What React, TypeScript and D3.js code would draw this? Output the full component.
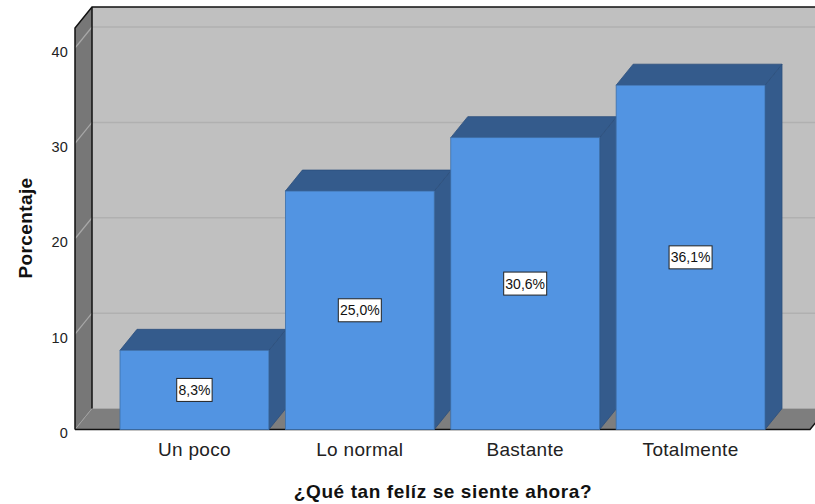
import React from "react";
import * as d3 from "d3";

const categories = ["Un poco", "Lo normal", "Bastante", "Totalmente"];
const values = [8.3, 25.0, 30.6, 36.1];
const yTicks = [0, 10, 20, 30, 40];
const yTitle = "Porcentaje";
const xTitle = "¿Qué tan felíz se siente ahora?";

const W = 815;
const H = 504;
const FONT = "'Liberation Sans', Arial, sans-serif";

export default function App() {
  const dx = 17;
  const dy = -21;
  const floorY = 429.5;
  const leftX = 75;
  const rightX = 810;
  const topY = 28;

  const y = d3.scaleLinear().domain([0, 40]).range([floorY, 48]);
  const x = d3.scaleBand<string>().domain(categories).range([120, 765]).paddingInner(0.1).paddingOuter(0);
  const bw = x.bandwidth();
  const fmt = (v: number) => d3.format(".1f")(v).replace(".", ",") + "%";

  const poly = (pts: [number, number][]) => pts.map((p) => p.join(",")).join(" ");

  return (
    <svg width={W} height={H} style={{ position: "absolute", left: 0, top: 0, background: "#fff" }} fontFamily={FONT}>
      <rect x={leftX + dx} y={topY + dy} width={rightX - leftX + 10} height={floorY - topY} fill="#c0c0c0" />
      {yTicks.slice(1).map((t) => (
        <line key={"bg" + t} x1={leftX + dx} x2={W} y1={y(t) + dy} y2={y(t) + dy} stroke="#b0b0b0" strokeWidth={1.5} />
      ))}
      <polygon
        points={poly([
          [leftX, topY],
          [leftX + dx, topY + dy],
          [leftX + dx, floorY + dy],
          [leftX, floorY],
        ])}
        fill="#777777"
      />
      {yTicks.slice(1).map((t) => (
        <line key={"lg" + t} x1={leftX} y1={y(t)} x2={leftX + dx} y2={y(t) + dy} stroke="#a8a8a8" strokeWidth={1.2} />
      ))}
      <polygon
        points={poly([
          [leftX, floorY],
          [leftX + dx, floorY + dy],
          [rightX + dx, floorY + dy],
          [rightX, floorY],
        ])}
        fill="#7e7e7e"
      />
      <line x1={leftX + dx} y1={floorY + dy} x2={W} y2={floorY + dy} stroke="#a8a8a8" strokeWidth={1.2} />
      <line x1={leftX} y1={floorY} x2={leftX + dx} y2={floorY + dy} stroke="#a0a0a0" strokeWidth={1} />
      <polyline
        points={poly([
          [leftX, floorY],
          [leftX, topY],
          [leftX + dx, topY + dy],
          [W + 5, topY + dy],
        ])}
        fill="none"
        stroke="#111"
        strokeWidth={1.5}
      />
      <line x1={leftX + dx} y1={topY + dy} x2={leftX + dx} y2={floorY + dy} stroke="#111" strokeWidth={1.5} />
      <polyline
        points={poly([
          [leftX, floorY],
          [rightX, floorY],
          [rightX + dx, floorY + dy],
        ])}
        fill="none"
        stroke="#111"
        strokeWidth={1.5}
      />
      {categories.map((c, i) => {
        const x0 = x(c)!;
        const x1 = x0 + bw;
        const yt = y(values[i]);
        return (
          <g key={c}>
            <polygon
              points={poly([
                [x1, yt],
                [x1 + dx, yt + dy],
                [x1 + dx, floorY + dy],
                [x1, floorY],
              ])}
              fill="#345b8c"
              stroke="#2c4f7c"
              strokeWidth={0.8}
            />
            <polygon
              points={poly([
                [x0, yt],
                [x0 + dx, yt + dy],
                [x1 + dx, yt + dy],
                [x1, yt],
              ])}
              fill="#345b8c"
              stroke="#2c4f7c"
              strokeWidth={0.8}
            />
            <rect x={x0} y={yt} width={bw} height={floorY - yt} fill="#5294e2" stroke="#3e6fa8" strokeWidth={0.8} />
          </g>
        );
      })}
      {categories.map((c, i) => {
        const cx = x(c)! + bw / 2;
        const cy = (y(values[i]) + floorY) / 2;
        const label = fmt(values[i]);
        const tw = label.length * 7.6 + 5;
        return (
          <g key={"l" + c}>
            <rect x={cx - tw / 2} y={cy - 11.5} width={tw} height={23} fill="#fff" stroke="#222" strokeWidth={1} />
            <text x={cx} y={cy + 5} textAnchor="middle" fontSize={14} fill="#111">
              {label}
            </text>
          </g>
        );
      })}
      {yTicks.map((t) => (
        <text key={"t" + t} x={68} y={y(t) + 8.5} textAnchor="end" fontSize={14.5} fill="#222" letterSpacing={0.2}>
          {t}
        </text>
      ))}
      {categories.map((c) => (
        <text key={"c" + c} x={x(c)! + bw / 2} y={456} textAnchor="middle" fontSize={19} fill="#222" letterSpacing={0.3}>
          {c}
        </text>
      ))}
      <text x={443} y={498} textAnchor="middle" fontSize={19} fontWeight="bold" fill="#111" letterSpacing={0.6}>
        {xTitle}
      </text>
      <text
        transform={`translate(32,228) rotate(-90)`}
        textAnchor="middle"
        fontSize={19}
        fontWeight="bold"
        fill="#111"
        letterSpacing={0.4}
      >
        {yTitle}
      </text>
    </svg>
  );
}
